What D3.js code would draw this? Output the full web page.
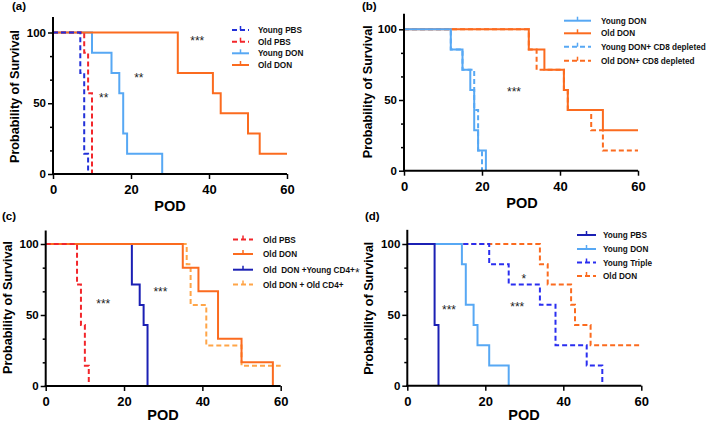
<!DOCTYPE html>
<html><head><meta charset="utf-8">
<script src="https://cdn.jsdelivr.net/npm/d3@7"></script>
<style>body{margin:0;background:#fff;} svg{display:block;font-family:"Liberation Sans",Arial,sans-serif;}</style>
</head><body><svg id="c" width="709" height="424"></svg>
<script>
// ---------- DATA ----------
const xTicks = [0, 20, 40, 60];
const yTicksMajor = [0, 50, 100];
const yTicksMinor = [16.67, 33.33, 66.67, 83.33];
const xTitle = "POD";
const yTitle = "Probability of Survival";

// Panel (a)
const aYoungPBS = [[0,100],[7,71.4],[8,14.3],[9,0]];
const aOldPBS   = [[0,100],[8,85.7],[9,57.1],[10,0]];
const aYoungDON = [[0,100],[10,85.7],[15,71.4],[17,57.1],[18,28.6],[19,14.3],[28,0]];
const aOldDON   = [[0,100],[32,71.4],[41,57.1],[43,42.9],[50,28.6],[53,14.3],[60,14.3]];
const aNames = ["Young PBS","Old PBS","Young DON","Old DON"];
const aStars = [[37,96,"***"],[22,70,"**"],[13,56,"**"]];

// Panel (b)
const bYoungDON = [[0,100],[12,85.7],[15,71.4],[17,57.1],[18,28.6],[19,14.3],[21,0]];
const bOldDON   = [[0,100],[32,85.7],[36,71.4],[41,57.1],[42,42.9],[51,28.6],[60,28.6]];
const bYoungCD8 = [[0,100],[12,85.7],[15,71.4],[18,42.9],[19,14.3],[20,0]];
const bOldCD8   = [[0,100],[32,85.7],[34,71.4],[41,57.1],[42,42.9],[48,28.6],[51,14.3],[60,14.3]];
const bNames = ["Young DON","Old DON","Young DON+ CD8 depleted","Old DON+ CD8 depleted"];
const bStars = [[28.2,57.6,"***"]];

// Panel (c)
const cOldPBS     = [[0,100],[8,71.4],[9,42.9],[10,14.3],[11,0]];
const cOldDON     = [[0,100],[35,83.3],[39,66.7],[44,33.3],[50,16.7],[58,0]];
const cYoungCD4   = [[0,100],[22,71.4],[24,57.1],[25,42.9],[26,0]];
const cOldCD4     = [[0,100],[36,85.7],[37,57.1],[41,28.6],[50,14.3],[60,14.3]];
const cNames = ["Old PBS","Old DON","Old  DON +Young CD4+","Old DON + Old CD4+"];
const cStars = [[14.7,60,"***"],[29.3,68.3,"***"]];

// Panel (d)
const dYoungPBS    = [[0,100],[7,42.9],[8,0]];
const dYoungDON    = [[0,100],[14,85.7],[15,57.1],[17,42.9],[18,28.6],[21,14.3],[26,0]];
const dYoungTriple = [[0,100],[21,85.7],[26,71.4],[34,57.1],[38,28.6],[46,14.3],[50,0]];
const dOldDON      = [[0,100],[34,85.7],[36,71.4],[42,57.1],[43,42.9],[47,28.6],[60,28.6]];
const dNames = ["Young PBS","Young DON","Young Triple","Old DON"];
const dStars = [[29.9,77.6,"*"],[10.7,55.8,"***"],[28.2,57.4,"***"],[-12.8,81.6,"*"]];

// ---------- STYLES / LAYOUT ----------
const C = {blue:"#2230d8", red:"#f2262b", lblue:"#57a8f4", orange:"#fb6b1f",
           navy:"#1b20b4", lorange:"#ffa548", tblue:"#2a2ef0"};

const panels = [
  {tag:"(a)", tagX:12, tagY:10, x0:53, x1:287, y0:174, y100:32.5, yMax:111,
   ytX:18.5, ytY:96.5, podX:170, podY:211,
   leg:{x:232, len:17, tx:258, ys:[30,41.7,53.3,65]},
   series:[
     {d:aYoungPBS, name:aNames[0], color:C.blue, dash:true},
     {d:aOldPBS,   name:aNames[1], color:C.red, dash:true},
     {d:aYoungDON, name:aNames[2], color:C.lblue, dash:false},
     {d:aOldDON,   name:aNames[3], color:C.orange, dash:false}],
   order:[2,3,1,0], stars:aStars},
  {tag:"(b)", tagX:362, tagY:10, x0:404, x1:638, y0:170.7, y100:29.3, yMax:111,
   ytX:371.5, ytY:91.7, podX:522, podY:208,
   leg:{x:564, len:27, tx:601, ys:[20.7,33.3,46.7,60.7]},
   series:[
     {d:bYoungDON, name:bNames[0], color:C.lblue, dash:false},
     {d:bOldDON,   name:bNames[1], color:C.orange, dash:false},
     {d:bYoungCD8, name:bNames[2], color:C.lblue, dash:true},
     {d:bOldCD8,   name:bNames[3], color:C.orange, dash:true}],
   order:[3,2,1,0], stars:bStars},
  {tag:"(c)", tagX:2, tagY:220, x0:45.7, x1:280.7, y0:386, y100:244, yMax:109.5,
   ytX:11.7, ytY:307.5, podX:163, podY:420,
   leg:{x:233, len:20, tx:263, ys:[239.5,254,269.7,284.5]},
   series:[
     {d:cOldPBS,   name:cNames[0], color:C.red, dash:true},
     {d:cOldDON,   name:cNames[1], color:C.orange, dash:false},
     {d:cYoungCD4, name:cNames[2], color:C.navy, dash:false},
     {d:cOldCD4,   name:cNames[3], color:C.lorange, dash:true}],
   order:[2,3,1,0], stars:cStars},
  {tag:"(d)", tagX:365, tagY:220, x0:407.3, x1:641.3, y0:385.7, y100:244, yMax:110,
   ytX:373, ytY:308.3, podX:524, podY:420,
   leg:{x:577, len:19, tx:603, ys:[235,249,262.5,276]},
   series:[
     {d:dYoungPBS,    name:dNames[0], color:C.navy, dash:false},
     {d:dYoungDON,    name:dNames[1], color:C.lblue, dash:false},
     {d:dYoungTriple, name:dNames[2], color:C.tblue, dash:true},
     {d:dOldDON,      name:dNames[3], color:C.orange, dash:true}],
   order:[3,2,1,0], stars:dStars}
];

const svg = d3.select("#c");
svg.append("rect").attr("width",709).attr("height",424).attr("fill","#fff");

panels.forEach(p => {
  const g = svg.append("g");
  const x = d3.scaleLinear().domain([0,60]).range([p.x0, p.x1]);
  const yPx = (p.y0 - p.y100) / 100;
  const y = d3.scaleLinear().domain([0, p.yMax]).range([p.y0, p.y0 - p.yMax * yPx]);

  // curves
  const line = d3.line().x(d => x(d[0])).y(d => y(d[1])).curve(d3.curveStepAfter);
  p.order.forEach(i => {
    const s = p.series[i];
    g.append("path").attr("d", line(s.d)).attr("fill","none")
      .attr("stroke", s.color).attr("stroke-width", 2)
      .attr("stroke-dasharray", s.dash ? "5,3" : null);
  });

  // y axis
  const yAx = g.append("g").attr("transform", `translate(${p.x0},0)`)
    .call(d3.axisLeft(y).tickValues(yTicksMajor).tickSize(5).tickPadding(2).tickFormat(d3.format("d")));
  yAx.select(".domain").remove();
  yAx.selectAll(".tick line").attr("stroke","#000").attr("stroke-width",1.5);
  yAx.selectAll("text").attr("font-size",11.5).attr("font-weight","bold").attr("fill","#000")
     .attr("font-family","Liberation Sans, Arial, sans-serif");
  const yMin = g.append("g").attr("transform", `translate(${p.x0},0)`)
    .call(d3.axisLeft(y).tickValues(yTicksMinor).tickSize(3).tickFormat(""));
  yMin.select(".domain").remove();
  yMin.selectAll(".tick line").attr("stroke","#000").attr("stroke-width",1.5);
  g.append("line").attr("x1",p.x0).attr("x2",p.x0).attr("y1",y(0)+1).attr("y2",y(p.yMax))
    .attr("stroke","#000").attr("stroke-width",2);

  // x axis
  const xAx = g.append("g").attr("transform", `translate(0,${p.y0})`)
    .call(d3.axisBottom(x).tickValues(xTicks).tickSize(5).tickPadding(6).tickFormat(d3.format("d")));
  xAx.select(".domain").remove();
  xAx.selectAll(".tick line").attr("stroke","#000").attr("stroke-width",1.5);
  xAx.selectAll("text").attr("font-size",13).attr("font-weight","bold").attr("fill","#000")
     .attr("font-family","Liberation Sans, Arial, sans-serif");
  g.append("line").attr("x1",p.x0-1).attr("x2",p.x1).attr("y1",p.y0).attr("y2",p.y0)
    .attr("stroke","#000").attr("stroke-width",2);

  // titles
  g.append("text").attr("x",p.podX).attr("y",p.podY).attr("text-anchor","middle")
    .attr("font-size",14.5).attr("font-weight","bold").text(xTitle);
  g.append("text").attr("transform",`translate(${p.ytX},${p.ytY}) rotate(-90)`)
    .attr("text-anchor","middle").attr("font-size",12.6).attr("font-weight","bold").text(yTitle);
  g.append("text").attr("x",p.tagX).attr("y",p.tagY).attr("font-size",11.5)
    .attr("font-weight","bold").text(p.tag);

  // stars
  p.stars.forEach(st => {
    g.append("text").attr("x", x(st[0])).attr("y", y(st[1]) + 7).attr("text-anchor","middle")
      .attr("font-size",12).attr("fill","#222").text(st[2]);
  });

  // legend
  p.series.forEach((s, i) => {
    const ly = p.leg.ys[i];
    g.append("line").attr("x1",p.leg.x).attr("x2",p.leg.x+p.leg.len).attr("y1",ly).attr("y2",ly)
      .attr("stroke",s.color).attr("stroke-width",2).attr("stroke-dasharray", s.dash ? "5,3" : null);
    g.append("line").attr("x1",p.leg.x+p.leg.len/2).attr("x2",p.leg.x+p.leg.len/2)
      .attr("y1",ly).attr("y2",ly-4).attr("stroke",s.color).attr("stroke-width",1.5);
    g.append("text").attr("x",p.leg.tx).attr("y",ly+3.1).attr("font-size",8.2)
      .attr("font-weight","bold").attr("fill","#111")
      .style("white-space","pre").text(s.name);
  });
});
</script></body></html>
